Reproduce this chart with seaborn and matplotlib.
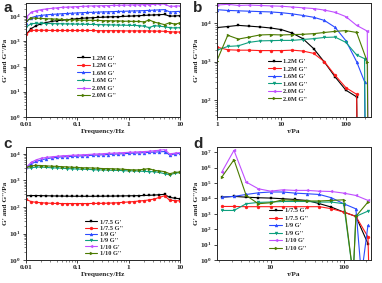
import matplotlib
matplotlib.use("Agg")
import matplotlib.pyplot as plt
from matplotlib.ticker import NullFormatter
import seaborn as sns

sns.set_style("ticks")
plt.rcParams['font.family'] = ['Liberation Serif', 'DejaVu Serif']
plt.rcParams['mathtext.fontset'] = 'stix'

# ---- data ----
freq = [0.01, 0.0126, 0.0158, 0.02, 0.0251, 0.0316, 0.0398, 0.0501, 0.0631, 0.0794,
        0.1, 0.126, 0.158, 0.2, 0.251, 0.316, 0.398, 0.501, 0.631, 0.794,
        1, 1.26, 1.58, 2, 2.51, 3.16, 3.98, 5.01, 6.31, 7.94, 10]

# panel a: frequency sweep, concentration series
a_12_g1 = [1900, 3200, 4200, 5000, 5600, 6200, 6600, 6900, 7200, 7600, 7900, 8300, 8500, 8700, 8900, 9100,
           9300, 9500, 9500, 9800, 10000, 10200, 10500, 10700, 11000, 11200, 11500, 11700, 10000, 10200, 10500]
a_12_g2 = [1900, 2700, 2750, 2750, 2750, 2700, 2700, 2700, 2700, 2700, 2700, 2700, 2700, 2700, 2650, 2650,
           2650, 2650, 2650, 2600, 2600, 2600, 2600, 2600, 2600, 2550, 2550, 2500, 2400, 2350, 2350]
a_16_g1 = [5600, 8700, 10000, 10800, 11300, 11800, 12100, 12500, 12800, 13100, 13500, 13800, 14100, 14200, 14500, 14800,
           14900, 15200, 15500, 15600, 15900, 16200, 16300, 16600, 17000, 17400, 17800, 18200, 14800, 15200, 15500]
a_16_g2 = [3700, 5000, 5200, 5200, 5100, 5100, 5000, 5000, 4900, 4900, 4800, 4800, 4700, 4700, 4600, 4600,
           4500, 4500, 4400, 4400, 4300, 4300, 4200, 4000, 3500, 4200, 4000, 3800, 3500, 3400, 3500]
a_20_g1 = [8900, 14100, 16600, 18200, 19500, 20400, 21400, 22400, 22900, 23400, 24000, 24500, 25100, 25700, 25700, 26300,
           26300, 26900, 26900, 27500, 27500, 28200, 28200, 28800, 28800, 29500, 30200, 30200, 24500, 25100, 25700]
a_20_g2 = [6300, 8500, 8300, 8100, 7900, 7800, 7600, 7400, 7200, 7200, 7100, 6900, 6900, 6800, 6800, 6600,
           6600, 6500, 6500, 6300, 6300, 6200, 6200, 5900, 7100, 5800, 5200, 4600, 5500, 4800, 5400]

# panel b: stress sweep, concentration series
b_12_tau = [1, 1.47, 2.15, 3.16, 4.64, 6.81, 10, 14.7, 21.5, 31.6, 46.4, 68.1, 100, 147, 155]
b_12_g1 = [7800, 8300, 8900, 8500, 8100, 7600, 6900, 5600, 4000, 2200, 980, 400, 180, 120, 0.1]
b_12_g2 = [2400, 2050, 2000, 2000, 1950, 1950, 1950, 2000, 1900, 1650, 1000, 440, 210, 140, 0.1]
b_16_tau = [1, 1.47, 2.15, 3.16, 4.64, 6.81, 10, 14.7, 21.5, 31.6, 46.4, 68.1, 100, 147, 195, 205]
b_16_g1 = [22900, 21900, 21400, 20900, 20400, 20000, 19100, 17800, 16200, 14500, 12000, 7900, 3550, 1000, 300, 0.1]
b_16_g2 = [2000, 2500, 2600, 3200, 3500, 3550, 3600, 3600, 3800, 4000, 4300, 4400, 3200, 1500, 1200, 0.1]
b_20_tau = [1, 1.47, 2.15, 3.16, 4.64, 6.81, 10, 14.7, 21.5, 31.6, 46.4, 68.1, 100, 147, 215, 225]
b_20_g1 = [30200, 31600, 29500, 30200, 29500, 28800, 28200, 26900, 25700, 24500, 22400, 19500, 15100, 8900, 6300, 0.1]
b_20_g2 = [1070, 4900, 3900, 4400, 5000, 5100, 5000, 5100, 5200, 5400, 5800, 6200, 6500, 5800, 1000, 0.1]

# panel c: frequency sweep, ratio series
c_75_g1 = [265, 270, 270, 268, 265, 262, 260, 258, 256, 255, 255, 254, 254, 254, 255, 256,
           257, 258, 260, 262, 264, 266, 268, 272, 276, 282, 290, 300, 230, 215, 205]
c_75_g2 = [195, 160, 150, 145, 140, 138, 136, 135, 135, 135, 135, 135, 135, 136, 137, 138,
           140, 142, 145, 150, 155, 160, 168, 175, 185, 200, 230, 265, 180, 175, 170]
c_9_g1 = [3100, 4200, 5200, 6000, 6600, 7100, 7400, 7800, 7900, 8100, 8300, 8500, 8700, 8900, 9100, 9300,
          9500, 9800, 10000, 10200, 10500, 10700, 11000, 11200, 11500, 11700, 12000, 12300, 9100, 10000, 10500]
c_9_g2 = [2900, 3000, 3200, 3200, 3100, 3000, 2950, 2900, 2800, 2750, 2700, 2650, 2650, 2550, 2500, 2500,
          2450, 2400, 2400, 2350, 2300, 2300, 2250, 2200, 2150, 2150, 2000, 1800, 1650, 1850, 2000]
c_10_g1 = [3100, 4800, 6000, 6900, 7400, 7800, 8100, 8500, 8700, 8900, 9100, 9300, 9500, 9800, 10000, 10200,
           10500, 10700, 11000, 11200, 11500, 11700, 12000, 12300, 12600, 13200, 13800, 14500, 10000, 10700, 11200]
c_10_g2 = [3100, 3550, 3700, 3650, 3550, 3450, 3400, 3300, 3250, 3150, 3100, 3000, 3000, 2950, 2900, 2800,
           2800, 2750, 2700, 2650, 2550, 2500, 2500, 2650, 2800, 2400, 2300, 2150, 1800, 2000, 2100]

# panel d: stress sweep, ratio series
d_tau = [2.15, 3.16, 4.64, 6.81, 10, 14.7, 21.5, 31.6, 46.4, 68.1, 100, 147, 215]
d_75_g1 = [12000, 13500, 12000, 11000, 10500, 9500, 8500, 7300, 4600, 2700, 1300, 680, 11.5]
d_75_tau2 = [2.15, 3.16, 4.64, 6.81, 10, 14.7, 21.5, 31.6, 46.4, 68.1, 100, 147, 215, 222]
d_75_g2 = [3000, 3000, 2900, 2900, 2900, 2900, 2900, 2900, 2900, 2150, 1300, 680, 32, 0.1]
d_9_tau1 = [2.15, 3.16, 4.64, 6.81, 10, 14.7, 21.5, 31.6, 46.4, 68.1, 100, 147, 175, 215]
d_9_g1 = [12000, 13500, 18000, 23000, 26000, 26000, 22000, 20000, 18000, 11000, 4500, 2100, 0.1, 180]
d_9_tau2 = [2.15, 3.16, 4.64, 6.81, 10, 14.7, 21.5, 31.6, 46.4, 68.1, 100, 135, 147, 215]
d_9_g2 = [1650, 1650, 4500, 5500, 5800, 6300, 6300, 6300, 5800, 5800, 4500, 0.1, 680, 1500]
d_10_g1 = [500000, 13000000, 115000, 42000, 29500, 36000, 33000, 33000, 29500, 28000, 22000, 15500, 7400]
d_10_tau2 = [2.15, 3.16, 4.64, 6.81, 10, 14.7, 21.5, 31.6, 46.4, 68.1, 100, 135, 147, 215]
d_10_g2 = [240000, 3200000, 15500, 4500, 5200, 8100, 7400, 6800, 6800, 7400, 8100, 0.1, 680, 5800]

labels_ab = ["1.2M G'", "1.2M G''", "1.6M G'", "1.6M G''", "2.0M G'", "2.0M G''"]
labels_cd = ["1/7.5 G'", "1/7.5 G''", "1/9 G'", "1/9 G''", "1/10 G'", "1/10 G''"]
colors = ['#000000', '#ff1a1a', '#2b4bff', '#0e9f7e', '#c04fff', '#4b7a00']
markers = ['s', 'o', '^', 'v', '<', '>']

fig = plt.figure(figsize=(3.82, 2.83), dpi=100)
ax_a = fig.add_axes([0.068, 0.587, 0.403, 0.402])
ax_b = fig.add_axes([0.568, 0.587, 0.403, 0.402])
ax_c = fig.add_axes([0.068, 0.081, 0.403, 0.399])
ax_d = fig.add_axes([0.568, 0.081, 0.403, 0.399])

series = {
    ax_a: [(freq, a_12_g1), (freq, a_12_g2), (freq, a_16_g1), (freq, a_16_g2), (freq, a_20_g1), (freq, a_20_g2)],
    ax_b: [(b_12_tau, b_12_g1), (b_12_tau, b_12_g2), (b_16_tau, b_16_g1), (b_16_tau, b_16_g2),
           (b_20_tau, b_20_g1), (b_20_tau, b_20_g2)],
    ax_c: [(freq, c_75_g1), (freq, c_75_g2), (freq, c_9_g1), (freq, c_9_g2), (freq, c_10_g1), (freq, c_10_g2)],
    ax_d: [(d_tau, d_75_g1), (d_75_tau2, d_75_g2), (d_9_tau1, d_9_g1), (d_9_tau2, d_9_g2),
           (d_tau, d_10_g1), (d_10_tau2, d_10_g2)],
}
labels = {ax_a: labels_ab, ax_b: labels_ab, ax_c: labels_cd, ax_d: labels_cd}

for ax, data in series.items():
    for (x, y), lab, col, mk in zip(data, labels[ax], colors, markers):
        sns.lineplot(x=x, y=y, ax=ax, color=col, marker=mk, markersize=2.1,
                     markeredgecolor=col, markeredgewidth=0.3, linewidth=0.8,
                     label=lab, sort=False, estimator=None)
    ax.set_xscale('log')
    ax.set_yscale('log')
    ax.set_ylabel("G' and G''/Pa", fontsize=5.3, fontweight='bold', labelpad=1)
    ax.tick_params(labelsize=5.3, length=2, width=0.6, pad=1.5)
    ax.tick_params(which='minor', length=1.2, width=0.4)
    ax.xaxis.set_minor_formatter(NullFormatter())
    ax.yaxis.set_minor_formatter(NullFormatter())
    for s in ax.spines.values():
        s.set_linewidth(0.7)
    for t in ax.get_yticklabels():
        t.set_fontweight('bold')

ax_a.set_xlim(0.01, 10)
ax_a.set_ylim(1, 33000)
ax_a.set_yticks([1, 10, 100, 1000, 10000])
ax_c.set_xlim(0.01, 10)
ax_c.set_ylim(1, 18000)
ax_c.set_yticks([1, 10, 100, 1000, 10000])
for ax in (ax_a, ax_c):
    ax.set_xticks([0.01, 0.1, 1, 10])
    ax.set_xticklabels(['0.01', '0.1', '1', '10'], fontweight='bold')
    ax.set_xlabel('Frequency/Hz', fontsize=5.3, fontweight='bold', labelpad=1.5)

ax_b.set_xlim(1, 245)
ax_b.set_ylim(36, 34000)
ax_b.set_yticks([100, 1000, 10000])
ax_b.set_xticks([1, 10, 100])
ax_b.set_xticklabels(['1', '10', '100'], fontweight='bold')
ax_d.set_xlim(1.85, 236)
ax_d.set_ylim(1, 2.1e7)
ax_d.set_yticks([1e0, 1e1, 1e2, 1e3, 1e4, 1e5, 1e6, 1e7])
ax_d.set_xticks([10, 100])
ax_d.set_xticklabels(['10', '100'], fontweight='bold')
for ax in (ax_b, ax_d):
    ax.set_xlabel('τ/Pa', fontsize=5.3, fontweight='bold', labelpad=1.5)

legend_cfg = {ax_a: ((0.31, 0.57), 0.32), ax_b: ((0.31, 0.54), 0.32),
              ax_c: ((0.36, 0.39), 0.12), ax_d: ((0.32, 0.49), 0.32)}
for ax, (pos, spacing) in legend_cfg.items():
    ax.legend(loc='upper left', bbox_to_anchor=pos, frameon=False,
              handlelength=2.0, handletextpad=0.4, labelspacing=spacing, borderpad=0,
              prop={'weight': 'bold', 'size': 4.6, 'family': 'Liberation Serif'})

for letter, x, y in [('a', 0.008, 0.997), ('b', 0.505, 0.997), ('c', 0.008, 0.515), ('d', 0.505, 0.515)]:
    fig.text(x, y, letter, fontsize=11, fontweight='bold', family='Liberation Sans', va='top', ha='left')

fig.savefig('out.png', dpi=100)
